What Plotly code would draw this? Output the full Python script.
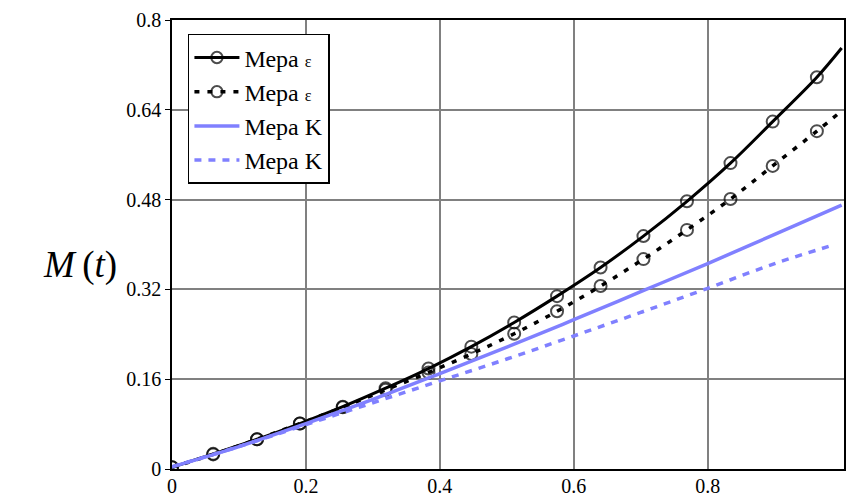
import plotly.graph_objects as go

# ---- data ----
t_marks = [0.0, 0.0615, 0.127, 0.191, 0.255, 0.319, 0.383, 0.447, 0.511,
           0.575, 0.640, 0.704, 0.769, 0.834, 0.897, 0.963, 1.0]
m_eps_1 = [0.003, 0.027, 0.053, 0.081, 0.111, 0.144, 0.179, 0.218, 0.261,
           0.308, 0.359, 0.415, 0.477, 0.545, 0.619, 0.698, 0.750]
m_eps_2 = [0.003, 0.026, 0.053, 0.081, 0.110, 0.141, 0.172, 0.205, 0.241,
           0.281, 0.326, 0.374, 0.426, 0.481, 0.540, 0.602, 0.638]

t_k = [0.0, 0.1, 0.2, 0.3, 0.4, 0.5, 0.6, 0.7, 0.8, 0.9, 1.0]
m_k_1 = [0.004, 0.040, 0.081, 0.124, 0.170, 0.217, 0.266, 0.316, 0.366, 0.418, 0.470]
t_k2 = [0.0, 0.1, 0.2, 0.3, 0.4, 0.5, 0.6, 0.7, 0.8, 0.9, 0.99]
m_k_2 = [0.004, 0.040, 0.079, 0.118, 0.157, 0.196, 0.237, 0.279, 0.322, 0.366, 0.400]

x_ticks = [0, 0.2, 0.4, 0.6, 0.8]
x_tick_text = ["0", "0.2", "0.4", "0.6", "0.8"]
y_ticks = [0, 0.16, 0.32, 0.48, 0.64, 0.8]
y_tick_text = ["0", "0.16", "0.32", "0.48", "0.64", "0.8"]

name_eps = "Мера <span style='font-size:16px'>ε</span>"
name_k = "Мера K"

FONT = "Liberation Serif, Times New Roman, serif"
BLUE = "rgb(128,128,255)"

marker_sizes = [12] * (len(t_marks) - 1) + [0]

fig = go.Figure()
fig.add_trace(go.Scatter(
    x=t_marks, y=m_eps_1, name=name_eps, mode="lines+markers",
    line=dict(color="black", width=3, shape="spline"),
    marker=dict(symbol="circle-open", size=marker_sizes, color="black",
                line=dict(width=2, color="black")),
))
fig.add_trace(go.Scatter(
    x=t_marks, y=m_eps_2, name=name_eps, mode="lines+markers",
    line=dict(color="black", width=3.5, shape="spline", dash="5px,8px"),
    marker=dict(symbol="circle-open", size=marker_sizes, color="black",
                line=dict(width=2, color="black")),
))
fig.add_trace(go.Scatter(
    x=t_k, y=m_k_1, name=name_k, mode="lines",
    line=dict(color=BLUE, width=3.5, shape="spline"),
))
fig.add_trace(go.Scatter(
    x=t_k2, y=m_k_2, name=name_k, mode="lines",
    line=dict(color=BLUE, width=3.5, shape="spline", dash="7px,7px"),
))

fig.update_layout(
    width=849, height=500,
    margin=dict(l=172, r=3, t=20, b=26),
    plot_bgcolor="white", paper_bgcolor="white",
    font=dict(family=FONT, size=20, color="black"),
    showlegend=True,
    legend=dict(
        x=0.0237, y=0.969, xanchor="left", yanchor="top",
        bgcolor="white", bordercolor="black", borderwidth=1.5,
        font=dict(family=FONT, size=24, color="black"),
        itemwidth=45,
    ),
    annotations=[dict(
        text="<i>M</i>\u2009(<i>t</i>)", xref="paper", yref="paper",
        x=-0.137, y=0.454, xanchor="center", yanchor="middle",
        showarrow=False, font=dict(family=FONT, size=37, color="black"),
    )],
)
fig.update_xaxes(
    range=[0, 1.0035], tickvals=x_ticks, ticktext=x_tick_text,
    showgrid=True, gridcolor="rgb(128,128,128)", gridwidth=1.5,
    showline=True, linecolor="black", linewidth=1.5, mirror=True,
    ticks="", zeroline=False, ticklabelstandoff=-2,
)
fig.update_yaxes(
    range=[0, 0.8], tickvals=y_ticks, ticktext=y_tick_text,
    showgrid=True, gridcolor="rgb(128,128,128)", gridwidth=1.5,
    showline=True, linecolor="black", linewidth=1.5, mirror=True,
    ticks="outside", ticklen=5, tickcolor="black", tickwidth=1,
    zeroline=False,
)

fig.write_html(
    "out.html",
    config={"displayModeBar": False},
    post_script="document.body.style.margin='0';document.body.style.padding='0';",
)
